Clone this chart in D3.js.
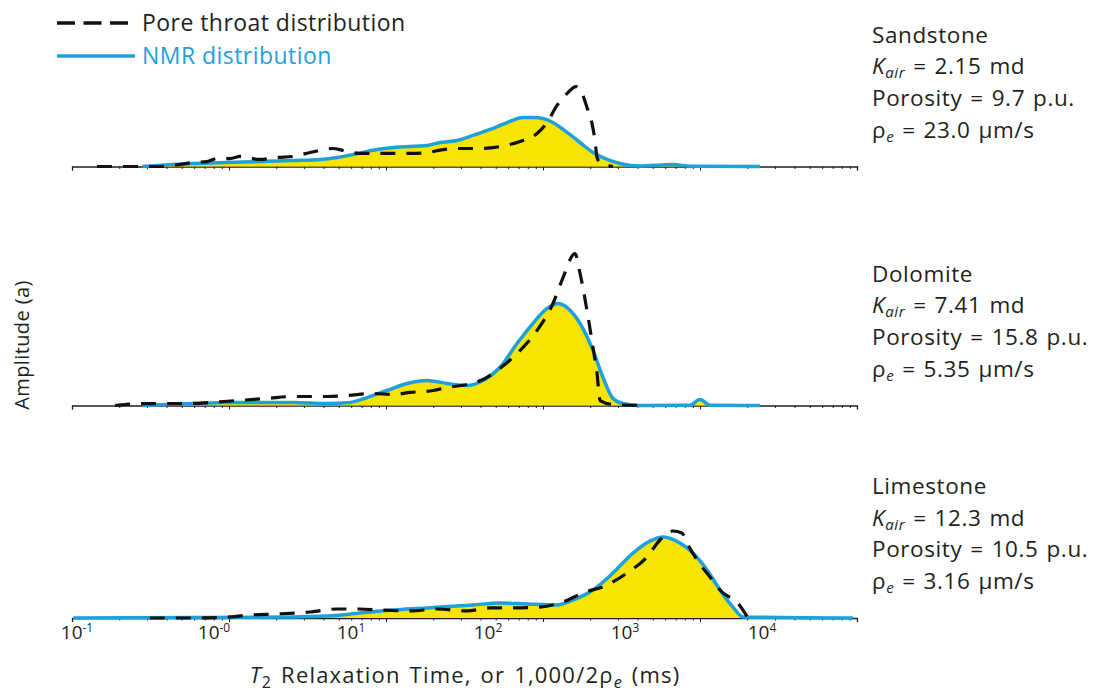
<!DOCTYPE html>
<html>
<head>
<meta charset="utf-8">
<script src="https://cdn.jsdelivr.net/npm/d3@7"></script>
<style>
  body { margin: 0; background: #fff; }
  svg { display: block; font-family: "Open Sans", Lato, sans-serif; }
</style>
</head>
<body>
<svg id="chart" width="1099" height="692"></svg>
<script>
// T2 (ms) / amplitude (a) pairs
const sandstonePore = [
  [0.14, 0], [0.29, 0], [0.40, 0], [0.56, 0.13], [0.70, 0.27], [0.89, 0.33], [1.05, 0.53],
  [1.31, 0.53], [1.55, 0.67], [2.17, 0.47], [2.88, 0.6], [3.78, 0.67], [5.02, 0.93], [7.39, 1.2],
  [8.75, 1.07], [11.6, 0.87], [15.5, 0.87], [20.3, 0.87], [27.0, 0.87], [35.9, 0.93], [47.0, 1.13],
  [62.5, 1.2], [87.5, 1.2], [122, 1.33], [171, 1.67], [228, 2.2], [270, 2.93], [319, 4.07],
  [378, 4.87], [439, 5.33], [486, 4.87], [528, 3.93], [574, 2.87], [604, 1.73], [625, 0.6],
  [658, 0.27], [817, 0]
];
const sandstoneNmr = [
  [0.30, 0], [0.70, 0.2], [1.24, 0.27], [2.17, 0.33], [3.78, 0.4], [5.94, 0.47], [7.91, 0.6],
  [10.4, 0.8], [15.5, 1.13], [20.3, 1.27], [35.9, 1.4], [44.7, 1.6], [59.4, 1.73], [77.8, 2.07],
  [103.5, 2.47], [138, 2.93], [180, 3.27], [213, 3.27], [252, 3.2], [298, 2.93], [378, 2.27],
  [470, 1.6], [584, 0.93], [740, 0.47], [920, 0.2], [1286, 0.03], [2239, 0.13], [2981, 0.02], [9660, 0]
];
const dolomitePore = [
  [0.19, 0], [0.23, 0.07], [0.29, 0.13], [0.40, 0.13], [0.64, 0.13], [0.94, 0.2], [1.47, 0.33],
  [2.44, 0.47], [3.78, 0.6], [6.68, 0.6], [9.36, 0.67], [14.5, 0.8], [20.3, 0.73], [27.0, 0.87],
  [39.7, 1.0], [50.2, 1.2], [70.3, 1.4], [92.0, 1.73], [122, 2.47], [163, 3.47], [228, 5.0],
  [298, 6.8], [353, 8.53], [431, 10.13], [470, 8.8], [528, 6.33], [584, 3.87], [625, 2.13],
  [658, 0.33], [817, 0.07], [1286, 0]
];
const dolomiteNmr = [
  [0.30, 0], [0.70, 0.13], [1.24, 0.2], [2.17, 0.2], [3.78, 0.2], [6.68, 0.13], [9.84, 0.2],
  [13.1, 0.53], [18.3, 1.0], [25.6, 1.47], [35.9, 1.67], [50.2, 1.47], [70.3, 1.33], [92.0, 1.67],
  [122, 2.53], [163, 4.13], [213, 5.47], [270, 6.47], [324, 6.8], [378, 6.53], [470, 5.47],
  [584, 3.67], [691, 1.87], [817, 0.47], [967, 0.13], [1286, 0], [2981, 0.02], [3527, 0.4],
  [4172, 0.02], [9660, 0]
];
const limestonePore = [
  [0.34, 0], [0.70, 0], [1.31, 0.07], [1.83, 0.2], [2.88, 0.27], [5.02, 0.4], [7.91, 0.6],
  [11.6, 0.6], [16.3, 0.53], [27.0, 0.47], [42.5, 0.6], [70.3, 0.47], [103.5, 0.67], [152, 0.67],
  [240, 0.73], [353, 1.07], [494, 1.67], [740, 2.2], [1035, 3.0], [1448, 4.07], [1799, 5.2],
  [2239, 5.8], [2606, 5.67], [2837, 5.0], [3355, 3.87], [4172, 2.73], [5188, 1.67], [6561, 1.07],
  [7510, 0.33], [7900, 0]
];
const limestoneNmr = [
  [0.094, 0], [3.78, 0.07], [6.68, 0.13], [11.6, 0.33], [20.3, 0.53], [35.9, 0.67], [44.7, 0.73],
  [77.8, 0.87], [122, 1.0], [193, 0.93], [319, 0.87], [417, 1.2], [584, 1.87], [817, 3.0],
  [1143, 4.33], [1521, 5.13], [1892, 5.4], [2518, 5.0], [3133, 4.33], [3969, 3.2], [4935, 1.87],
  [6138, 0.73], [7262, 0.07], [46100, 0]
];

const rockNames = ["Sandstone", "Dolomite", "Limestone"];
const kairValues = ["2.15", "7.41", "12.3"];
const porosityValues = ["9.7", "15.8", "10.5"];
const rhoValues = ["23.0", "5.35", "3.16"];
const poreSeries = [sandstonePore, dolomitePore, limestonePore];
const nmrSeries = [sandstoneNmr, dolomiteNmr, limestoneNmr];

const tickLabelValues = [0.1, 1, 10, 100, 1000, 10000];
const tickLabelExps = ["-1", "-0", "1", "2", "3", "4"];

const BLUE = "#1ba1dc", YELLOW = "#f6e500", INK = "#231f20";

const svg = d3.select("#chart");

// data + labels scale, and the (slightly wider) scale the tick marks were drawn on
const x = d3.scaleLog().domain([0.1, 1e4]).range([77, 762]);
const xTick = d3.scaleLog().domain([0.1, 1e4]).range([72, 857]);
const y = d3.scaleLinear().domain([0, 10]).range([0, -150]);

const baselines = [166.5, 405.5, 618];

const area = d3.area()
  .x(d => x(d[0])).y0(y(0)).y1(d => y(d[1]))
  .curve(d3.curveMonotoneX);
const line = d3.line()
  .x(d => x(d[0])).y(d => y(d[1]))
  .curve(d3.curveMonotoneX);

baselines.forEach((b, i) => {
  const g = svg.append("g").attr("transform", `translate(0,${b})`);

  // axis with log ticks, no labels
  const ax = g.append("g")
    .call(d3.axisBottom(xTick).tickSizeOuter(0).tickSize(4).tickFormat(""));
  ax.select(".domain").attr("stroke", INK).attr("stroke-width", 1.3);
  ax.selectAll(".tick line")
    .attr("stroke", INK)
    .attr("stroke-width", 1)
    .attr("y2", d => Math.abs(Math.log10(d) - Math.round(Math.log10(d))) < 1e-6 ? 4 : 2.5);

  g.append("path").datum(nmrSeries[i])
    .attr("d", area).attr("fill", YELLOW);
  g.append("path").datum(nmrSeries[i])
    .attr("d", line).attr("fill", "none")
    .attr("stroke", BLUE).attr("stroke-width", 3.5).attr("stroke-linejoin", "round");
  g.append("path").datum(poreSeries[i])
    .attr("d", line).attr("fill", "none")
    .attr("stroke", "#111").attr("stroke-width", 3.2)
    .attr("stroke-dasharray", "15,11");

  // annotation block
  const t = svg.append("g").attr("transform", `translate(872,${b - 124})`)
    .attr("fill", INK).style("font-size", "22.5px")
    .style("letter-spacing", "0.6px").style("word-spacing", "1.5px");
  t.append("text").attr("y", 0).text(rockNames[i]);
  const k = t.append("text").attr("y", 31.5);
  k.append("tspan").style("font-style", "italic").text("K");
  k.append("tspan").style("font-style", "italic").style("font-size", "15px").attr("dy", 4).text("air");
  k.append("tspan").attr("dy", -4).text(` = ${kairValues[i]} md`);
  t.append("text").attr("y", 63).text(`Porosity = ${porosityValues[i]} p.u.`);
  const r = t.append("text").attr("y", 95);
  r.append("tspan").text("ρ");
  r.append("tspan").style("font-style", "italic").style("font-size", "15px").attr("dy", 4).text("e");
  r.append("tspan").attr("dy", -4).text(` = ${rhoValues[i]} µm/s`);
});

// x tick labels under the bottom panel
tickLabelValues.forEach((v, i) => {
  const tl = svg.append("text")
    .attr("x", x(v)).attr("y", 639)
    .attr("text-anchor", "middle").attr("fill", INK)
    .style("font-size", "19px");
  tl.append("tspan").text("10");
  tl.append("tspan").attr("dy", -7).style("font-size", "12px").text(tickLabelExps[i]);
});

// x axis title
const xt = svg.append("text")
  .attr("x", 465).attr("y", 683).attr("text-anchor", "middle")
  .attr("fill", INK).style("font-size", "22px")
  .style("letter-spacing", "1.2px").style("word-spacing", "2px");
xt.append("tspan").style("font-style", "italic").text("T");
xt.append("tspan").attr("dy", 5).style("font-size", "16px").text("2");
xt.append("tspan").attr("dy", -5).text(" Relaxation Time, or 1,000/2ρ");
xt.append("tspan").attr("dy", 5).style("font-size", "16px").style("font-style", "italic").text("e");
xt.append("tspan").attr("dy", -5).text(" (ms)");

// y axis title
svg.append("text")
  .attr("transform", "translate(29,345) rotate(-90)")
  .attr("text-anchor", "middle").attr("fill", INK)
  .style("font-size", "20px").style("letter-spacing", "0.4px")
  .text("Amplitude (a)");

// legend
const legend = svg.append("g");
legend.append("line")
  .attr("x1", 57).attr("x2", 128).attr("y1", 23).attr("y2", 23)
  .attr("stroke", "#111").attr("stroke-width", 3.5).attr("stroke-dasharray", "18,8.5");
legend.append("text").attr("x", 142).attr("y", 31)
  .attr("fill", INK).style("font-size", "23px").style("letter-spacing", "0.45px")
  .text("Pore throat distribution");
legend.append("line")
  .attr("x1", 57).attr("x2", 135).attr("y1", 56).attr("y2", 56)
  .attr("stroke", BLUE).attr("stroke-width", 3.5);
legend.append("text").attr("x", 142).attr("y", 64)
  .attr("fill", BLUE).style("font-size", "23px").style("letter-spacing", "0.45px")
  .text("NMR distribution");
</script>
</body>
</html>
